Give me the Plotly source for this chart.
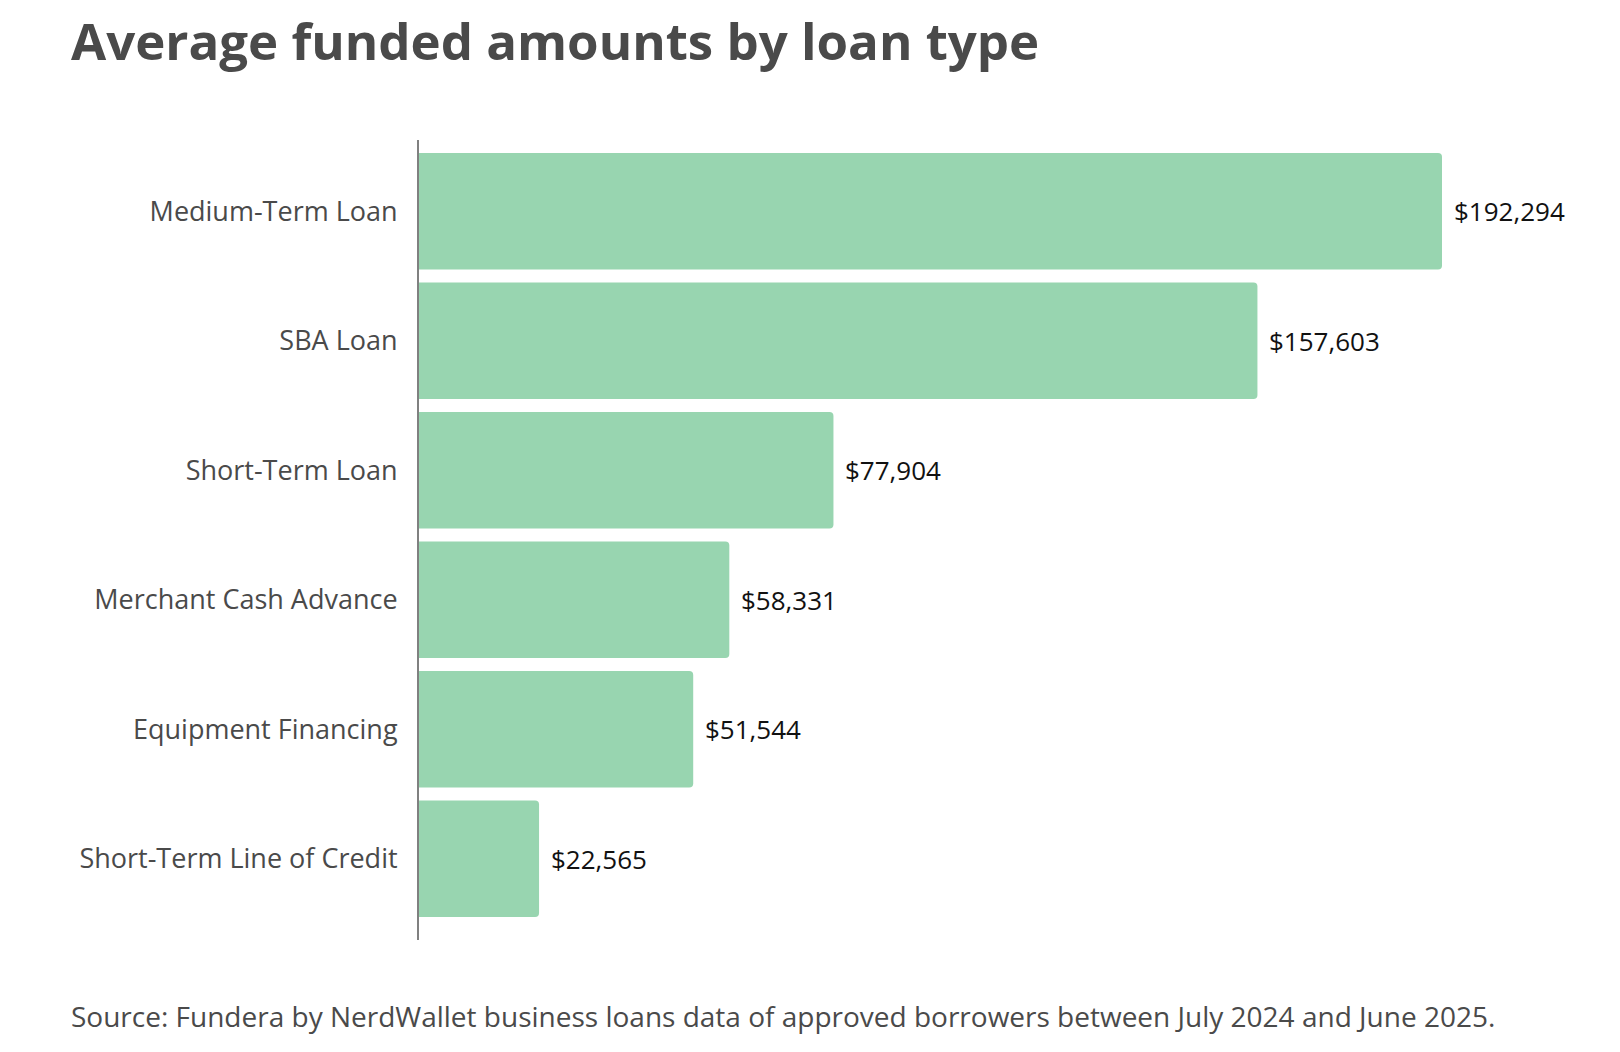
import plotly.graph_objects as go

# loan types listed bottom-to-top so the largest sits on top
loan_types = [
    "Short-Term Line of Credit",
    "Equipment Financing",
    "Merchant Cash Advance",
    "Short-Term Loan",
    "SBA Loan",
    "Medium-Term Loan",
]
avg_funded = [22565, 51544, 58331, 77904, 157603, 192294]

title_text = "Average funded amounts by loan type"
source_text = ("Source: Fundera by NerdWallet business loans data of approved "
               "borrowers between July 2024 and June 2025.")

FONT = "Open Sans, sans-serif"
BAR_COLOR = "#98D5B0"
GRAY = "#4a4a4a"

# the page body adds an 8px margin, so the figure is a bit smaller
W, H = 1612, 1044
ML, MR, MT, MB = 411, 100, 132, 112
plot_w = W - ML - MR
plot_h = H - MT - MB
x_max = plot_w * max(avg_funded) / 1023

fig = go.Figure()
fig.add_bar(
    x=avg_funded,
    y=loan_types,
    orientation="h",
    marker=dict(color=BAR_COLOR, line=dict(width=0)),
    hoverinfo="skip",
)

for lt, v in zip(loan_types, avg_funded):
    fig.add_annotation(
        x=v, y=lt, xref="x", yref="y",
        text=f"${v:,}", showarrow=False,
        xanchor="left", xshift=10,
        font=dict(family=FONT, size=26, color="#111111"),
    )

fig.add_annotation(
    x=(61 - ML) / plot_w, y=(H - MB - 1029) / plot_h,
    xref="paper", yref="paper",
    xanchor="left", yanchor="bottom",
    text=source_text, showarrow=False,
    font=dict(family=FONT, size=28, color=GRAY),
)

fig.update_layout(
    width=W, height=H,
    margin=dict(l=ML, r=MR, t=MT, b=MB),
    plot_bgcolor="white",
    paper_bgcolor="white",
    bargap=0.1,
    barcornerradius=4,
    showlegend=False,
    title=dict(
        text=f"<b>{title_text}</b>",
        x=63 / W, xanchor="left", xref="container",
        y=1 - 16 / H, yanchor="top", yref="container",
        font=dict(family=FONT, size=51, color=GRAY),
    ),
)
fig.update_xaxes(
    range=[0, x_max],
    showgrid=False, zeroline=False, showline=False,
    showticklabels=False, ticks="",
)
fig.update_yaxes(
    range=[-0.627, 5.55],
    showgrid=False, zeroline=False,
    showline=True, linecolor="#808080", linewidth=2,
    ticks="", ticklabelstandoff=14,
    tickfont=dict(family=FONT, size=27, color=GRAY),
)

fig.write_html("out.html")
